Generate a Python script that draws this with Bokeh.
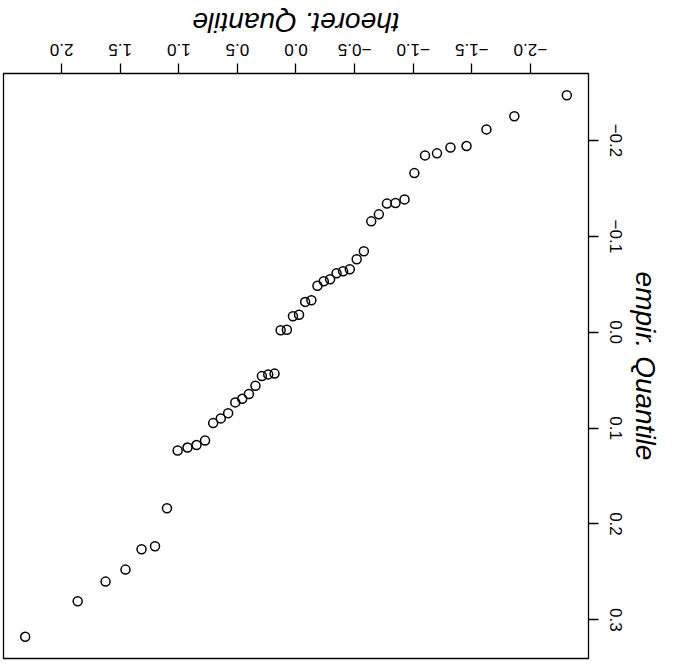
from bokeh.plotting import figure
from bokeh.models import Range1d, FixedTicker, CustomJSTickFormatter, ColumnDataSource
from bokeh.embed import file_html
from bokeh.resources import INLINE

theoret = [-2.311, -1.863, -1.625, -1.455, -1.318, -1.203, -1.101, -1.010, -0.926, -0.849,
           -0.776, -0.707, -0.642, -0.579, -0.518, -0.459, -0.402, -0.346, -0.291, -0.237,
           -0.183, -0.131, -0.078, -0.026, 0.026, 0.078, 0.131, 0.183, 0.237, 0.291,
           0.346, 0.402, 0.459, 0.518, 0.579, 0.642, 0.707, 0.776, 0.849, 0.926,
           1.010, 1.101, 1.203, 1.318, 1.455, 1.625, 1.863, 2.311]
empir = [-0.2472, -0.2253, -0.2115, -0.1941, -0.1927, -0.1865, -0.1844, -0.1659, -0.1385, -0.1347,
         -0.1341, -0.1229, -0.1156, -0.0844, -0.0760, -0.0656, -0.0635, -0.0615, -0.0552, -0.0531,
         -0.0484, -0.0333, -0.0316, -0.0182, -0.0167, -0.0026, -0.0021, 0.0432, 0.0440, 0.0458,
         0.0559, 0.0644, 0.0695, 0.0732, 0.0844, 0.0899, 0.0948, 0.1130, 0.1177, 0.1203,
         0.1234, 0.1836, 0.2232, 0.2264, 0.2476, 0.2601, 0.2805, 0.3177]

x_ticks = [-2.0, -1.5, -1.0, -0.5, 0.0, 0.5, 1.0, 1.5, 2.0]
y_ticks = [-0.2, -0.1, 0.0, 0.1, 0.2, 0.3]
x_label = "theoret. Quantile"
y_label = "empir. Quantile"

def padded(vals, frac=0.04):
    lo, hi = min(vals), max(vals)
    d = (hi - lo) * frac
    return lo - d, hi + d

xlo, xhi = padded(theoret)
ylo, yhi = padded(empir)

FONT = "Liberation Sans"

# The reference is an R normal QQ plot shown turned upside down (180 degrees),
# so the plot is built upright and the whole figure is rotated by CSS.
p = figure(frame_width=585, frame_height=585,
           x_range=Range1d(xlo, xhi), y_range=Range1d(ylo, yhi),
           output_backend="svg", toolbar_location=None,
           min_border_left=71, min_border_right=4, min_border_top=3, min_border_bottom=74,
           background_fill_color="white", border_fill_color="white")
p.styles = {"transform": "rotate(180deg)", "transform-origin": "50% 50%"}
p.grid.visible = False
p.outline_line_color = "black"
p.outline_line_width = 1.3

fmt = CustomJSTickFormatter(code="return tick.toFixed(1).replace('-', '\\u2212');")

def style_axis(ax, ticks, orient, standoff, label, label_standoff):
    ax.ticker = FixedTicker(ticks=ticks)
    ax.formatter = fmt
    ax.axis_line_color = None
    ax.major_tick_out = 10
    ax.major_tick_in = 0
    ax.major_tick_line_width = 1.3
    ax.major_tick_line_color = "black"
    ax.minor_tick_line_color = None
    ax.major_label_orientation = orient
    ax.major_label_standoff = standoff
    ax.major_label_text_font = FONT
    ax.major_label_text_font_size = "17px"
    ax.major_label_text_color = "black"
    ax.axis_label = label
    ax.axis_label_text_font = FONT
    ax.axis_label_text_font_style = "italic"
    ax.axis_label_text_font_size = "28px"
    ax.axis_label_text_color = "black"
    ax.axis_label_standoff = label_standoff

style_axis(p.xaxis[0], x_ticks, "horizontal", 8, x_label, 3)
style_axis(p.yaxis[0], y_ticks, "parallel", 11, y_label, 5)

src = ColumnDataSource(data=dict(x=theoret, y=empir))
p.scatter("x", "y", source=src, marker="circle", size=9, fill_color=None,
          line_color="black", line_width=1.5)

open("out.html", "w").write(file_html(p, INLINE))
